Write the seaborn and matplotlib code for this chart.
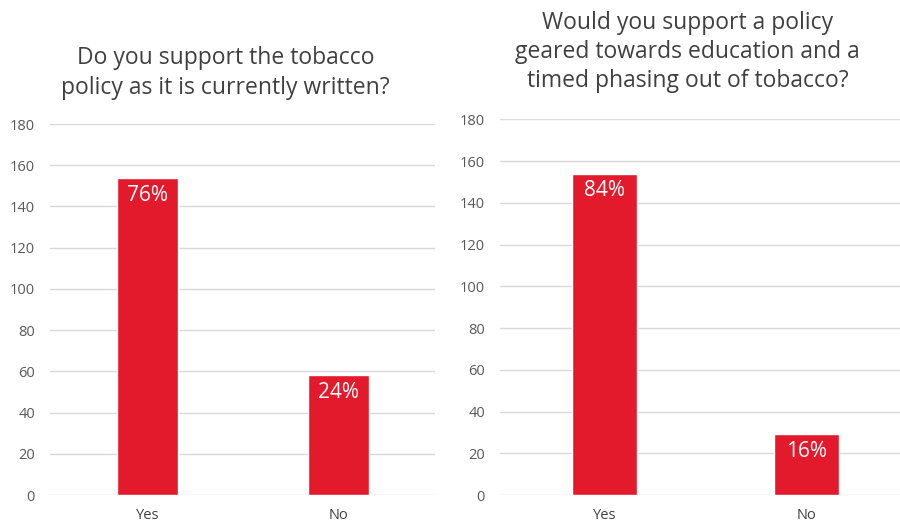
import matplotlib
matplotlib.use("Agg")
import matplotlib.pyplot as plt
import seaborn as sns
import pandas as pd

# data
answers = ["Yes", "No"]
current_counts = [154, 58]
current_pct = ["76%", "24%"]
phased_counts = [154, 29]
phased_pct = ["84%", "16%"]
title_left = "Do you support the tobacco\npolicy as it is currently written?"
title_right = "Would you support a policy\ngeared towards education and a\ntimed phasing out of tobacco?"

RED = "#E31A2C"
GRID = "#D9D9D9"
TICK = "#595959"
TITLE = "#404040"

sns.set_theme(style="white")
plt.rcParams["font.family"] = ["Open Sans", "DejaVu Sans"]

fig = plt.figure(figsize=(9, 5.27), dpi=100)
ax1 = fig.add_axes([0.056, 0.0607, 0.427, 0.704])
ax2 = fig.add_axes([0.556, 0.0607, 0.444, 0.713])


def draw(ax, counts, labels, xlim):
    df = pd.DataFrame({"answer": answers, "count": counts})
    sns.barplot(data=df, x="answer", y="count", color=RED, width=0.32,
                saturation=1, ax=ax, zorder=3)
    ax.set_ylim(0, 180)
    ax.set_yticks(range(0, 181, 20))
    ax.set_xlim(*xlim)
    ax.grid(axis="y", color=GRID, lw=1, zorder=0)
    for s in ax.spines.values():
        s.set_visible(False)
    ax.set_xlabel("")
    ax.set_ylabel("")
    ax.tick_params(axis="y", length=0, pad=11, labelsize=10.5, labelcolor=TICK)
    ax.tick_params(axis="x", length=0, pad=9, labelsize=10.5, labelcolor=TITLE)
    for i, (c, lab) in enumerate(zip(counts, labels)):
        ax.annotate(lab, (i, c), xytext=(0, -5), textcoords="offset points",
                    ha="center", va="top", color="white", fontsize=15,
                    zorder=4)


draw(ax1, current_counts, current_pct, (-0.51, 1.505))
draw(ax2, phased_counts, phased_pct, (-0.514, 1.46))

fig.text(0.2505, 1 - 73 / 527, title_left, ha="center", va="center",
         fontsize=16.5, color=TITLE, linespacing=1.3)
fig.text(0.764, 1 - 52 / 527, title_right, ha="center", va="center",
         fontsize=16.5, color=TITLE, linespacing=1.3)

fig.savefig("out.png", dpi=100, facecolor="white")
